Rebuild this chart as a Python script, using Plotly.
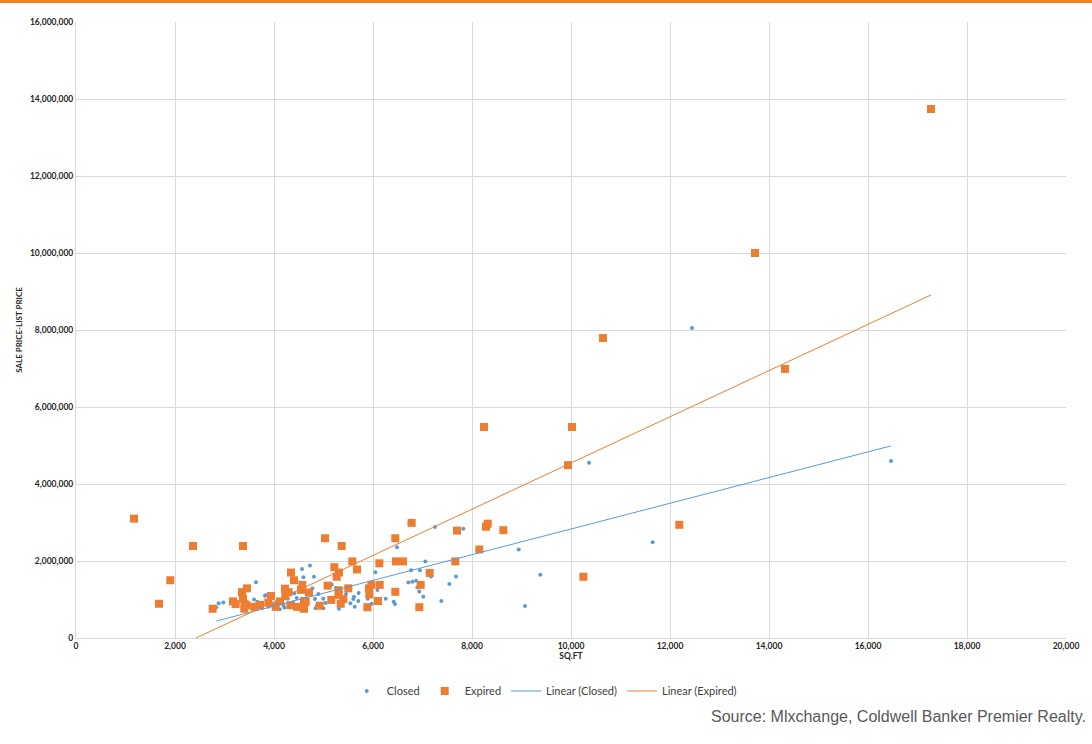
import plotly.graph_objects as go

# Closed listings: square footage vs (sale price - list price)
closed_sqft = [
    2834, 2883, 2976, 3596, 3616, 3636, 3663, 3751, 3818, 3832, 3886, 3953,
    4040, 4115, 4188, 4209, 4276, 4384, 4411, 4458, 4519, 4566, 4593, 4727,
    4774, 4808, 4828, 4842, 4862, 4896, 4997, 4997, 5044, 5165, 5252, 5313,
    5455, 5542, 5602, 5616, 5630, 5703, 5710, 5893, 5973, 6047, 6088, 6256,
    6418, 6444, 6485, 6714, 6734, 6768, 6795, 6869, 6896, 6936, 6949, 7017,
    7057, 7172, 7253, 7380, 7542, 7677, 7825, 8943, 9071, 9380, 10364, 11650,
    12444, 16465,
]
closed_price = [
    800000, 900000, 920000, 1000000, 830000, 1450000, 940000, 770000, 1100000, 1110000, 810000, 850000,
    900000, 750000, 860000, 790000, 1020000, 930000, 1160000, 1040000, 800000, 1790000, 1580000, 1880000,
    1290000, 1590000, 1010000, 770000, 830000, 1140000, 1020000, 770000, 910000, 1390000, 1300000, 760000,
    1140000, 900000, 1010000, 1070000, 810000, 960000, 1170000, 1020000, 890000, 1710000, 1250000, 1020000,
    940000, 880000, 2360000, 1440000, 2990000, 1760000, 1460000, 1490000, 1310000, 1210000, 1760000, 1070000,
    1990000, 1600000, 2880000, 960000, 1400000, 1600000, 2840000, 2300000, 830000, 1640000, 4550000, 2490000,
    8050000, 4600000,
]

# Expired listings
expired_sqft = [
    1172, 1677, 1905, 2364, 2761, 3172, 3226, 3354, 3374, 3374, 3400, 3408,
    3448, 3454, 3603, 3717, 3885, 3939, 4034, 4121, 4222, 4229, 4296, 4330,
    4343, 4404, 4465, 4545, 4572, 4580, 4606, 4606, 4640, 4707, 4923, 5030,
    5084, 5158, 5219, 5266, 5306, 5306, 5313, 5347, 5367, 5401, 5501, 5582,
    5677, 5886, 5919, 5926, 5966, 6101, 6128, 6135, 6451, 6451, 6465, 6606,
    6781, 6936, 6963, 7145, 7663, 7697, 8148, 8242, 8283, 8317, 8633, 9939,
    10020, 10250, 10646, 12188, 13717, 14323, 17273,
]
expired_price = [
    3100000, 890000, 1500000, 2390000, 760000, 950000, 880000, 1190000, 2390000, 1020000, 760000, 880000,
    850000, 1290000, 810000, 860000, 920000, 1090000, 810000, 950000, 1280000, 1090000, 1190000, 850000,
    1700000, 1500000, 810000, 1250000, 1380000, 800000, 960000, 760000, 940000, 1180000, 840000, 2590000,
    1360000, 990000, 1840000, 1590000, 1240000, 1120000, 1700000, 890000, 2390000, 1010000, 1290000, 1990000,
    1780000, 800000, 1290000, 1130000, 1380000, 960000, 1940000, 1380000, 2590000, 1200000, 1990000, 1990000,
    2990000, 800000, 1380000, 1690000, 1990000, 2790000, 2300000, 5480000, 2890000, 2970000, 2800000, 4490000,
    5480000, 1590000, 7790000, 2940000, 10000000, 6990000, 13740000,
]

# Linear trend lines (visible end points as drawn in the source chart)
trend_closed_x = [2834, 16465]
trend_closed_y = [440000, 4990000]
trend_expired_x = [2424, 17273]
trend_expired_y = [0, 8910000]

x_ticks = list(range(0, 20001, 2000))
y_ticks = list(range(0, 16000001, 2000000))

BLUE = "#5B9BD5"
ORANGE = "#ED7D31"
TICK_FONT = dict(family="Lato, Open Sans, Arial, sans-serif", size=8.5, color="#262626", weight="bold")

fig = go.Figure()
fig.add_trace(go.Scatter(
    x=closed_sqft, y=closed_price, mode="markers", name="Closed",
    marker=dict(color=BLUE, size=4, symbol="circle"),
))
fig.add_trace(go.Scatter(
    x=expired_sqft, y=expired_price, mode="markers", name="Expired",
    marker=dict(color=ORANGE, size=8, symbol="square"),
))
fig.add_trace(go.Scatter(
    x=trend_closed_x, y=trend_closed_y, mode="lines", name="Linear (Closed)",
    line=dict(color=BLUE, width=1),
))
fig.add_trace(go.Scatter(
    x=trend_expired_x, y=trend_expired_y, mode="lines", name="Linear (Expired)",
    line=dict(color=ORANGE, width=1),
))

fig.update_xaxes(
    range=[0, 20000], tickvals=x_ticks, tickformat=",d",
    showgrid=True, gridcolor="#D9D9D9", gridwidth=1, zeroline=False,
    showline=True, linecolor="#D9D9D9", tickfont=TICK_FONT,
    title=dict(text="SQ.FT", font=TICK_FONT, standoff=2),
)
fig.update_yaxes(
    range=[0, 16000000], tickvals=y_ticks, tickformat=",d",
    showgrid=True, gridcolor="#D9D9D9", gridwidth=1, zeroline=False,
    showline=True, linecolor="#D9D9D9", tickfont=TICK_FONT,
    title=dict(text="SALE PRICE-LIST PRICE", font=dict(TICK_FONT, size=8), standoff=6),
)

fig.update_layout(
    width=1092, height=744,
    margin=dict(l=76, r=26, t=22, b=106),
    plot_bgcolor="white", paper_bgcolor="white",
    showlegend=True,
    legend=dict(
        orientation="h", x=0.473, xanchor="center", y=-0.086, yanchor="middle",
        font=dict(family="Lato, Open Sans, Arial, sans-serif", size=11, color="#404040"),
        traceorder="normal",
    ),
    shapes=[dict(
        type="rect", xref="paper", yref="paper",
        x0=-0.08, x1=1.03, y0=1.0308, y1=1.0365,
        fillcolor="#F08220", line=dict(width=0), layer="above",
    )],
    annotations=[dict(
        text="Source: Mlxchange, Coldwell Banker Premier Realty.",
        xref="paper", yref="paper", x=1.022, y=-0.127,
        xanchor="right", yanchor="middle", showarrow=False,
        font=dict(family="Liberation Sans Narrow, Arial Narrow, Liberation Sans, sans-serif",
                  size=16, color="#595959"),
    )],
)

fig.write_html("out.html", config={"displayModeBar": False},
               post_script="document.body.style.margin='0';")
